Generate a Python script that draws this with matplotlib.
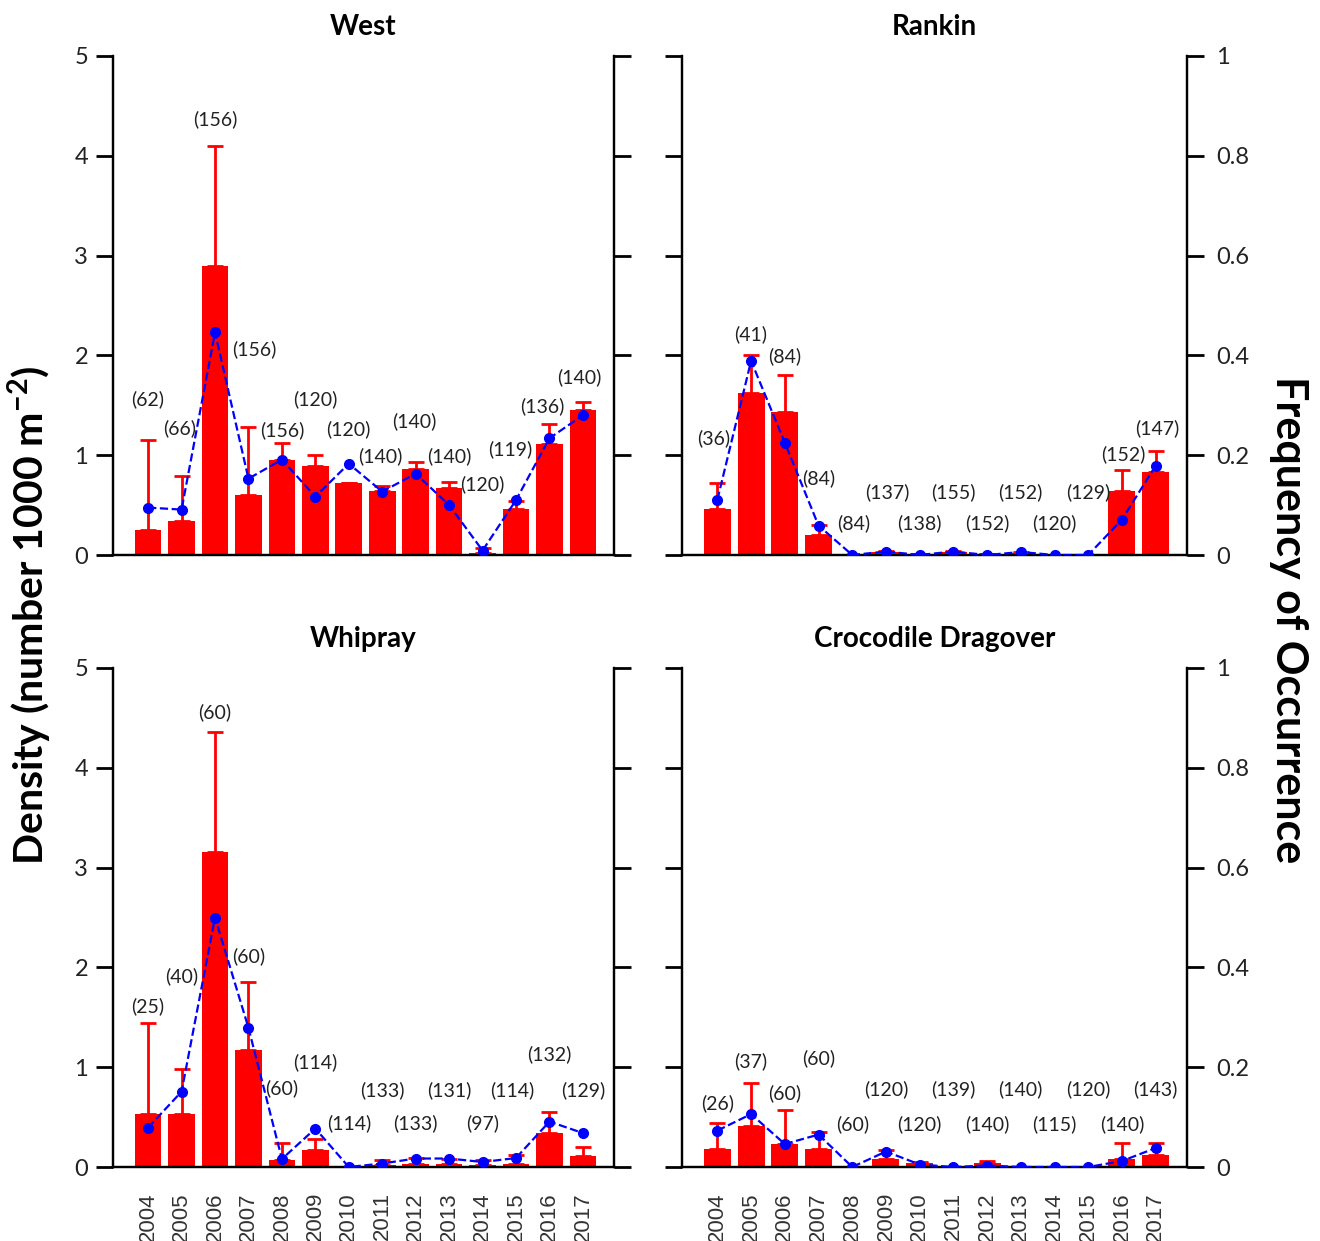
import numpy as np
import matplotlib
matplotlib.use('Agg')
import matplotlib.pyplot as plt

plt.rcParams['font.family'] = ['Lato', 'DejaVu Sans']

years = ['2004', '2005', '2006', '2007', '2008', '2009', '2010',
         '2011', '2012', '2013', '2014', '2015', '2016', '2017']
titles = ['West', 'Rankin', 'Whipray', 'Crocodile Dragover']

# density (number 1000 m-2), upper standard error, frequency of occurrence, sample size
west_dens = [0.25, 0.34, 2.90, 0.60, 0.95, 0.89, 0.72, 0.64, 0.86, 0.67, 0.02, 0.46, 1.11, 1.45]
west_err = [0.90, 0.45, 1.20, 0.68, 0.17, 0.11, 0.0, 0.05, 0.07, 0.06, 0.05, 0.08, 0.20, 0.08]
west_freq = [0.095, 0.091, 0.446, 0.153, 0.191, 0.117, 0.183, 0.127, 0.163, 0.10, 0.009, 0.11, 0.234, 0.28]
west_n = [62, 66, 156, 156, 156, 120, 120, 140, 140, 140, 120, 119, 136, 140]

rankin_dens = [0.46, 1.62, 1.43, 0.20, 0.0, 0.03, 0.01, 0.03, 0.01, 0.02, 0.0, 0.0, 0.64, 0.83]
rankin_err = [0.26, 0.38, 0.37, 0.10, 0.0, 0.01, 0.0, 0.01, 0.0, 0.01, 0.0, 0.0, 0.21, 0.21]
rankin_freq = [0.111, 0.389, 0.225, 0.059, 0.0, 0.007, 0.0, 0.007, 0.0, 0.006, 0.0, 0.0, 0.071, 0.179]
rankin_n = [36, 41, 84, 84, 84, 137, 138, 155, 152, 152, 120, 129, 152, 147]

whipray_dens = [0.53, 0.53, 3.16, 1.17, 0.07, 0.17, 0.0, 0.02, 0.03, 0.03, 0.02, 0.03, 0.34, 0.11]
whipray_err = [0.91, 0.45, 1.20, 0.68, 0.17, 0.11, 0.0, 0.05, 0.06, 0.05, 0.05, 0.09, 0.21, 0.09]
whipray_freq = [0.079, 0.151, 0.50, 0.279, 0.016, 0.077, 0.0, 0.007, 0.017, 0.017, 0.01, 0.018, 0.091, 0.068]
whipray_n = [25, 40, 60, 60, 60, 114, 114, 133, 133, 131, 97, 114, 132, 129]

croc_dens = [0.18, 0.41, 0.23, 0.18, 0.0, 0.08, 0.04, 0.0, 0.04, 0.0, 0.0, 0.0, 0.08, 0.12]
croc_err = [0.26, 0.43, 0.34, 0.17, 0.0, 0.09, 0.01, 0.0, 0.02, 0.0, 0.0, 0.0, 0.16, 0.12]
croc_freq = [0.073, 0.106, 0.046, 0.065, 0.0, 0.031, 0.005, 0.0, 0.003, 0.0, 0.0, 0.0, 0.012, 0.038]
croc_n = [26, 37, 60, 60, 60, 120, 120, 139, 140, 140, 115, 120, 140, 143]

# where the (n) labels sit, in density units and bar offsets
west_lab_y = [1.56, 1.27, 4.37, 2.06, 1.25, 1.56, 1.26, 0.99, 1.34, 0.99, 0.71, 1.06, 1.49, 1.78]
west_lab_dx = [0, -0.05, 0, 0.17, 0, 0, 0, -0.05, -0.05, 0, 0, -0.18, -0.2, -0.1]
rankin_lab_y = [1.17, 2.21, 1.99, 0.77, 0.32, 0.63, 0.32, 0.63, 0.32, 0.63, 0.32, 0.63, 1.01, 1.27]
rankin_lab_dx = [-0.1, 0, 0, 0, 0.05, 0.05, 0, 0, 0, 0, 0, 0, 0.05, 0.05]
whipray_lab_y = [1.61, 1.91, 4.56, 2.11, 0.79, 1.05, 0.44, 0.77, 0.44, 0.77, 0.44, 0.77, 1.13, 0.77]
whipray_lab_dx = [0, 0, 0, 0, 0, 0, 0, 0, 0, 0, 0, -0.1, 0, 0]
croc_lab_y = [0.64, 1.06, 0.74, 1.09, 0.43, 0.78, 0.43, 0.78, 0.43, 0.78, 0.43, 0.78, 0.43, 0.78]
croc_lab_dx = [0] * 14

panels = [
    (west_dens, west_err, west_freq, west_n, west_lab_y, west_lab_dx),
    (rankin_dens, rankin_err, rankin_freq, rankin_n, rankin_lab_y, rankin_lab_dx),
    (whipray_dens, whipray_err, whipray_freq, whipray_n, whipray_lab_y, whipray_lab_dx),
    (croc_dens, croc_err, croc_freq, croc_n, croc_lab_y, croc_lab_dx),
]

W, H = 1320, 1241
fig = plt.figure(figsize=(W / 100, H / 100), dpi=100)

# pixel boxes (left, right, top, bottom)
boxes = [(113, 614, 56, 555), (682, 1187, 56, 555),
         (113, 614, 668, 1167), (682, 1187, 668, 1167)]

x = np.arange(len(years))
for k, (dens, err, freq, n, lab_y, lab_dx) in enumerate(panels):
    l, r, t, b = boxes[k]
    ax = fig.add_axes([l / W, 1 - b / H, (r - l) / W, (b - t) / H])
    ax.bar(x, dens, width=0.8, color='#ff0000', zorder=2)
    ax.errorbar(x, dens, yerr=[np.zeros(len(err)), err], fmt='none',
                ecolor='#ff0000', elinewidth=2, capsize=6, capthick=2, zorder=3)
    ax.set_xlim(-1.05, 13.93)
    ax.set_ylim(0, 5)
    ax.set_yticks([0, 1, 2, 3, 4, 5])
    ax.spines['top'].set_visible(False)
    for s in ['left', 'right', 'bottom']:
        ax.spines[s].set_linewidth(1.6)
    ax.tick_params(axis='y', direction='out', length=12, width=2, labelsize=17, pad=6,
                   labelcolor='#222222')
    ax.set_xticks(x)
    if k >= 2:
        ax.set_xticklabels(years, rotation=90)
    else:
        ax.set_xticklabels([])
    ax.tick_params(axis='x', length=0, pad=18, labelsize=16, labelcolor='#333333',
                   labelfontfamily='Liberation Sans')
    if k % 2 == 1:
        ax.set_yticklabels([])
    ax.set_title(titles[k], fontsize=20, fontweight='bold', pad=15)

    for i in range(len(n)):
        ax.text(x[i] + lab_dx[i], lab_y[i], f'({n[i]})', ha='center', va='center',
                fontsize=14, color='#222222', zorder=5)

    ax2 = ax.twinx()
    ax2.plot(x, freq, color='#0000ff', linestyle='--', linewidth=1.6,
             marker='o', markersize=7, zorder=4)
    ax2.set_ylim(0, 1)
    ax2.set_yticks([0, 0.2, 0.4, 0.6, 0.8, 1])
    ax2.spines['top'].set_visible(False)
    for s in ['left', 'right', 'bottom']:
        ax2.spines[s].set_linewidth(1.6)
    ax2.tick_params(axis='y', direction='out', length=12, width=2, labelsize=17, pad=9,
                    labelcolor='#222222')
    if k % 2 == 1:
        ax2.set_yticklabels(['0', '0.2', '0.4', '0.6', '0.8', '1'])
    else:
        ax2.set_yticklabels([])

fig.text(30 / W, 1 - 615 / H, 'Density (number 1000 m$^{\\mathregular{-2}}$)', rotation=90,
         ha='center', va='center', fontsize=29.5, fontweight='bold')
fig.text(1289 / W, 1 - 620 / H, 'Frequency of Occurrence', rotation=270,
         ha='center', va='center', fontsize=31, fontweight='bold')

fig.savefig('out.png', dpi=100)
